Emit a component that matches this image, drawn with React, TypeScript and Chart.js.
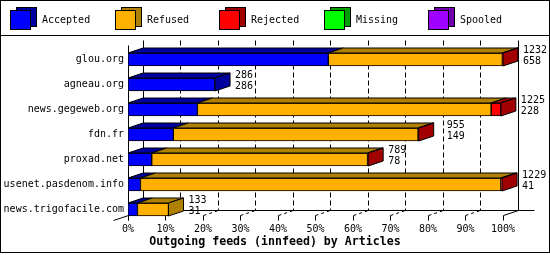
import { useEffect, useRef } from "react";
import { Chart, registerables } from "chart.js";

Chart.register(...registerables);

const categories = [
  "glou.org",
  "agneau.org",
  "news.gegeweb.org",
  "fdn.fr",
  "proxad.net",
  "usenet.pasdenom.info",
  "news.trigofacile.com",
];
const totals = [1232, 286, 1225, 955, 789, 1229, 133];
const accepted = [658, 286, 228, 149, 78, 41, 31];
const refused = [572, 0, 965, 804, 709, 1184, 102];
const rejected = [2, 0, 32, 2, 2, 4, 0];
const missing = [0, 0, 0, 0, 0, 0, 0];
const spooled = [0, 0, 0, 0, 0, 0, 0];
const seriesNames = ["Accepted", "Refused", "Rejected", "Missing", "Spooled"];
const xTickValues = [0, 10, 20, 30, 40, 50, 60, 70, 80, 90, 100];
const axisTitle = "Outgoing feeds (innfeed) by Articles";

// styles
const frontColors = ["#0000ff", "#ffb000", "#ff0000", "#00ff00", "#a000ff"];
const darkColors = ["#0000a0", "#b08000", "#a00000", "#00a000", "#7000b0"];
const labelShift = [0, 0, 0, 8, 0, 0, 0];
const FONT = '"DejaVu Sans Mono", "Liberation Mono", monospace';
const DX = 15;
const DY = 5;

const seriesValues = [accepted, refused, rejected, missing, spooled];
const maxTotal = Math.max(...totals);

const c = (v: number) => Math.floor(v) + 0.5;

function line(ctx: CanvasRenderingContext2D, x1: number, y1: number, x2: number, y2: number, dash: number[] = []) {
  ctx.save();
  ctx.setLineDash(dash);
  ctx.strokeStyle = "#000";
  ctx.lineWidth = 1;
  ctx.beginPath();
  ctx.moveTo(x1, y1);
  ctx.lineTo(x2, y2);
  ctx.stroke();
  ctx.restore();
}

function poly(ctx: CanvasRenderingContext2D, pts: number[][], fill: string) {
  ctx.beginPath();
  ctx.moveTo(pts[0][0], pts[0][1]);
  for (let i = 1; i < pts.length; i++) ctx.lineTo(pts[i][0], pts[i][1]);
  ctx.closePath();
  ctx.fillStyle = fill;
  ctx.fill();
  ctx.strokeStyle = "#000";
  ctx.lineWidth = 1;
  ctx.stroke();
}

const frame3d = {
  id: "frame3d",
  beforeDatasetsDraw(chart: any) {
    const ctx: CanvasRenderingContext2D = chart.ctx;
    const xs = chart.scales.x;
    const ys = chart.scales.y;
    const ca = chart.chartArea;
    const L = xs.getPixelForValue(0);
    const R = xs.getPixelForValue(100);
    const floorF = c(ys.getPixelForValue(categories.length - 1) + 6);
    const floorB = floorF - DY;
    const topF = c(ca.top - 2);
    const topB = topF - DY;
    // back gridlines (dashed) and floor diagonals
    xTickValues.forEach((v) => {
      const xf = c(xs.getPixelForValue(v));
      const xb = xf + DX;
      if (v > 0 && v < 100) {
        line(ctx, xb, topB, xb, floorB, [5, 3]);
        line(ctx, xf, floorF, xb, floorB, [3, 3]);
      }
      line(ctx, xf, floorF, xf, floorF + 5);
    });
    // walls
    line(ctx, c(L) + DX, topB, c(L) + DX, floorB);
    line(ctx, c(R) + DX, topB, c(R) + DX, floorB);
    line(ctx, c(L) + DX, floorB, c(R) + DX + 16, floorB);
    line(ctx, c(L), topF, c(L), floorF + 5);
    line(ctx, c(L) - DX, floorF + 5, c(L) + DX, floorB);
    line(ctx, c(R), floorF, c(R) + DX, floorB);
  },
  afterDatasetsDraw(chart: any) {
    const ctx: CanvasRenderingContext2D = chart.ctx;
    ctx.save();
    categories.forEach((_, i) => {
      let last: any = null;
      let lastIdx = -1;
      seriesValues.forEach((vals, d) => {
        if (vals[i] <= 0) return;
        const el = chart.getDatasetMeta(d).data[i];
        const p = el.getProps(["x", "y", "base", "height"], true);
        const top = p.y - p.height / 2;
        const x0 = Math.min(p.base, p.x);
        const x1 = Math.max(p.base, p.x);
        poly(ctx, [[x0, top], [x1, top], [x1 + DX, top - DY], [x0 + DX, top - DY]], darkColors[d]);
        last = p;
        lastIdx = d;
      });
      if (last) {
        const top = last.y - last.height / 2;
        const bot = last.y + last.height / 2;
        const xe = Math.max(last.base, last.x);
        poly(ctx, [[xe, top], [xe + DX, top - DY], [xe + DX, bot - DY], [xe, bot]], darkColors[lastIdx]);
        // labels
        ctx.fillStyle = "#000";
        ctx.font = `10px ${FONT}`;
        ctx.textAlign = "left";
        ctx.textBaseline = "middle";
        const lx = xe + DX + 5 + labelShift[i];
        const ly = top - DY + 2.5;
        ctx.fillText(String(totals[i]), lx, ly);
        ctx.fillText(String(accepted[i]), lx, ly + 11);
      }
    });
    ctx.restore();
  },
  afterDraw(chart: any) {
    const ctx: CanvasRenderingContext2D = chart.ctx;
    ctx.save();
    // legend
    seriesNames.forEach((name, d) => {
      const x = Math.round(10 + d * 104.5);
      const y = 10;
      ctx.fillStyle = darkColors[d];
      ctx.fillRect(x + 6, y - 3, 20, 19);
      ctx.strokeStyle = "#000";
      ctx.lineWidth = 1;
      ctx.strokeRect(x + 6 + 0.5, y - 3 + 0.5, 20, 19);
      ctx.fillStyle = frontColors[d];
      ctx.fillRect(x, y, 20, 19);
      ctx.strokeRect(x + 0.5, y + 0.5, 20, 19);
      ctx.fillStyle = "#000";
      ctx.font = `10px ${FONT}`;
      ctx.textAlign = "left";
      ctx.textBaseline = "middle";
      ctx.fillText(name, x + 32, 20);
    });
    line(ctx, 0, 35.5, 550, 35.5);
    ctx.strokeStyle = "#000";
    ctx.strokeRect(0.5, 0.5, 549, 252);
    // axis title
    ctx.fillStyle = "#000";
    ctx.font = `bold 11.6px ${FONT}`;
    ctx.textAlign = "center";
    ctx.textBaseline = "middle";
    ctx.fillText(axisTitle, 275, 242);
    ctx.restore();
  },
};

export default function App() {
  const ref = useRef<HTMLCanvasElement>(null);
  useEffect(() => {
    if (!ref.current) return;
    const chart = new Chart(ref.current, {
      type: "bar",
      data: {
        labels: categories,
        datasets: seriesNames.map((name, d) => ({
          label: name,
          data: seriesValues[d].map((v) => (v / maxTotal) * 100),
          backgroundColor: frontColors[d],
          borderColor: "#000",
          borderWidth: 1,
          borderSkipped: false,
          barThickness: 13,
          stack: "s",
        })),
      },
      options: {
        indexAxis: "y",
        responsive: false,
        animation: false,
        devicePixelRatio: 1,
        layout: { padding: { top: 47, left: 0, right: 47, bottom: 0 } },
        plugins: { legend: { display: false }, tooltip: { enabled: false }, title: { display: false } },
        scales: {
          x: {
            stacked: true,
            min: 0,
            max: 100,
            afterFit: (s: any) => {
              s.height = 33;
            },
            afterBuildTicks: (s: any) => {
              s.ticks = xTickValues.map((v) => ({ value: v }));
            },
            ticks: {
              autoSkip: false,
              maxRotation: 0,
              padding: 1,
              color: "#000",
              font: { family: FONT, size: 10 },
              callback: (v: any) => `${v}%`,
            },
            grid: { display: false, drawTicks: false },
            border: { display: false },
          },
          y: {
            stacked: true,
            afterFit: (s: any) => {
              s.width = 128;
            },
            ticks: {
              padding: 4,
              color: "#000",
              font: { family: FONT, size: 10 },
            },
            grid: { display: false, drawTicks: false },
            border: { display: false },
          },
        },
      },
      plugins: [frame3d],
    });
    return () => chart.destroy();
  }, []);
  return (
    <div style={{ position: "absolute", left: 0, top: 0, width: 550, height: 255, background: "#fff" }}>
      <canvas ref={ref} width={550} height={255} />
    </div>
  );
}
